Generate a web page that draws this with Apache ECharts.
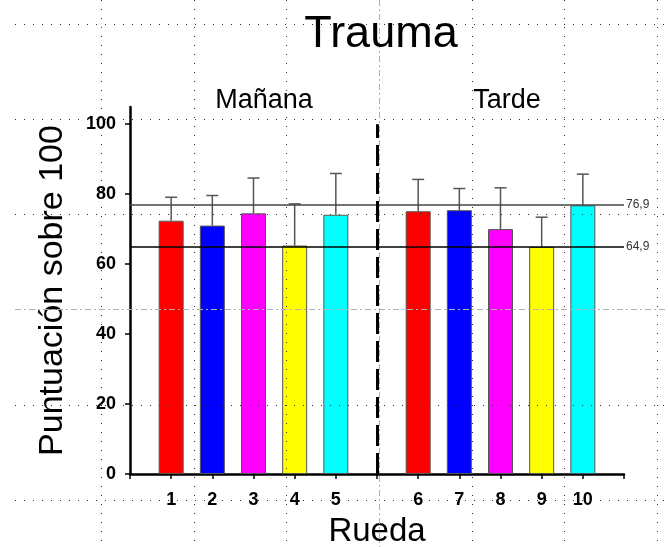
<!DOCTYPE html>
<html>
<head>
<meta charset="utf-8">
<script src="https://cdn.jsdelivr.net/npm/echarts@6/dist/echarts.min.js"></script>
<style>
  html, body { margin: 0; background: #fff; }
  #chart { width: 668px; height: 547px; }
</style>
</head>
<body>
<div id="chart"></div>
<script>
// datos
var ruedas = ['1', '2', '3', '4', '5', '6', '7', '8', '9', '10'];
var medias = [72.4, 71.0, 74.5, 65.3, 74.1, 75.1, 75.4, 70.0, 64.9, 76.8];
var limiteSup = [79.1, 79.6, 84.6, 77.2, 85.9, 84.2, 81.6, 81.8, 73.4, 85.7];
var colores = ['#ff0000', '#0000ff', '#ff00ff', '#ffff00', '#00ffff',
               '#ff0000', '#0000ff', '#ff00ff', '#ffff00', '#00ffff'];
var referencias = [76.9, 64.9];
var yTicks = [0, 20, 40, 60, 80, 100];
var turnos = ['Mañana', 'Tarde'];

var SANS = "'Liberation Sans', Arial, sans-serif";

// eje x: hueco al inicio, entre turnos y al final
var cats = [''].concat(ruedas.slice(0, 5), [''], ruedas.slice(5), ['']);
var divisor = 6;
function pos(i) { return i < 5 ? i + 1 : i + 2; }

var barData = cats.map(function () { return '-'; });
var errData = [];
ruedas.forEach(function (r, i) {
  barData[pos(i)] = { value: medias[i], itemStyle: { color: colores[i] } };
  errData.push([pos(i), medias[i], limiteSup[i]]);
});

// rejilla punteada de fondo (como en la diapositiva original)
var centro = { type: [6, 3, 2, 3], color: '#b0b0b0' };
var bgLines = [];
for (var k = 0; k < 7; k++) {
  var x = 101.5 + 92.6 * k;
  bgLines.push([{ coord: [x, 0], lineStyle: k === 3 ? centro : null }, { coord: [x, 547] }]);
}
for (var j = 0; j < 6; j++) {
  var y = 24 + 95.2 * j;
  bgLines.push([{ coord: [15, y], lineStyle: j === 3 ? centro : null }, { coord: [668, y] }]);
}

var myChart = echarts.init(document.getElementById('chart'));

var option = {
  animation: false,
  backgroundColor: '#fff',
  title: [
    { text: 'Trauma', left: 376, top: 7, textAlign: 'center', textStyle: { fontFamily: SANS, fontSize: 45, fontWeight: 'normal', color: '#000' } },
    { text: turnos[0], left: 259, top: 82, textAlign: 'center', textStyle: { fontFamily: SANS, fontSize: 27, fontWeight: 'normal', color: '#000' } },
    { text: turnos[1], left: 502, top: 82, textAlign: 'center', textStyle: { fontFamily: SANS, fontSize: 27, fontWeight: 'normal', color: '#000' } }
  ],
  grid: [
    { left: 130, right: 44, top: 107, bottom: 73, outerBoundsMode: 'none' },
    { left: 0, top: 0, width: 668, height: 547, outerBoundsMode: 'none' }
  ],
  xAxis: [
    {
      gridIndex: 0,
      type: 'category',
      data: cats,
      boundaryGap: false,
      axisLine: { lineStyle: { color: '#000', width: 2.5 } },
      axisTick: { interval: 0, length: 5, lineStyle: { color: '#000', width: 1.5 } },
      axisLabel: { interval: 0, margin: 17, fontFamily: SANS, fontWeight: 'bold', fontSize: 18, color: '#000' },
      splitLine: { show: false },
      name: 'Rueda',
      nameLocation: 'middle',
      nameGap: 41,
      nameTextStyle: { fontFamily: SANS, fontSize: 33, color: '#000' }
    },
    { gridIndex: 1, type: 'value', min: 0, max: 668, show: false }
  ],
  yAxis: [
    {
      gridIndex: 0,
      type: 'value',
      min: 0,
      max: 104.9,
      axisLine: { show: true, lineStyle: { color: '#000', width: 2.5 } },
      axisTick: { show: true, customValues: yTicks, length: 5, lineStyle: { color: '#000', width: 1.5 } },
      axisLabel: { customValues: yTicks, margin: 14, fontFamily: SANS, fontWeight: 'bold', fontSize: 18, color: '#000' },
      splitLine: { show: false },
      name: 'Puntuación sobre 100',
      nameLocation: 'middle',
      nameGap: 60,
      nameTextStyle: { fontFamily: SANS, fontSize: 34, color: '#000' }
    },
    { gridIndex: 1, type: 'value', min: 0, max: 547, inverse: true, show: false }
  ],
  series: [
    {
      name: 'fondo',
      type: 'line',
      xAxisIndex: 1,
      yAxisIndex: 1,
      data: [[0, 0]],
      symbol: 'none',
      silent: true,
      z: 0,
      lineStyle: { width: 0 },
      markLine: {
        silent: true,
        symbol: 'none',
        label: { show: false },
        lineStyle: { color: '#333', width: 1, type: [1, 8] },
        data: bgLines
      }
    },
    {
      name: 'Puntuación',
      type: 'bar',
      xAxisIndex: 0,
      yAxisIndex: 0,
      data: barData,
      barWidth: 25,
      z: 3,
      itemStyle: { borderColor: '#555', borderWidth: 1 },
      markLine: {
        silent: true,
        symbol: 'none',
        data: referencias.map(function (v, i) {
          return {
            yAxis: v,
            lineStyle: { color: i === 0 ? '#444' : '#000', width: 1.6, type: 'solid' },
            label: {
              show: true,
              position: 'end',
              distance: 2,
              formatter: String(v).replace('.', ','),
              fontFamily: SANS,
              fontSize: 12,
              color: '#333'
            }
          };
        }).concat([[
          { coord: [divisor, 0], lineStyle: { color: '#000', width: 3, type: [21, 7] }, label: { show: false } },
          { coord: [divisor, 100] }
        ]])
      }
    },
    {
      name: 'error',
      type: 'custom',
      xAxisIndex: 0,
      yAxisIndex: 0,
      z: 4,
      data: errData,
      encode: { x: 0, y: [1, 2] },
      renderItem: function (params, api) {
        var cx = api.value(0);
        var p0 = api.coord([cx, api.value(1)]);
        var p1 = api.coord([cx, api.value(2)]);
        var st = { stroke: '#555', lineWidth: 1.5 };
        return {
          type: 'group',
          children: [
            { type: 'line', shape: { x1: p0[0], y1: p0[1], x2: p1[0], y2: p1[1] }, style: st },
            { type: 'line', shape: { x1: p1[0] - 6, y1: p1[1], x2: p1[0] + 6, y2: p1[1] }, style: st }
          ]
        };
      }
    }
  ]
};

myChart.setOption(option);
</script>
</body>
</html>
